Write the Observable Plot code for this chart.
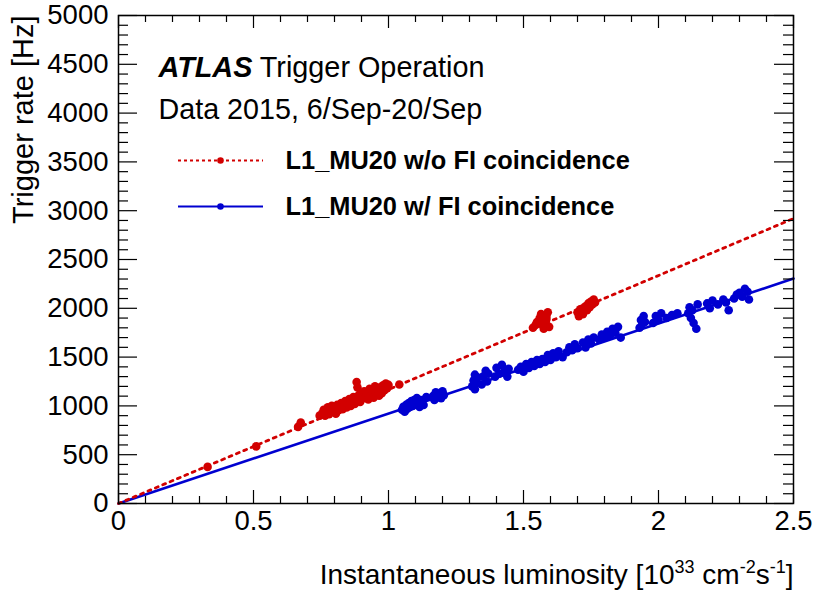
<!DOCTYPE html>
<html><head><meta charset="utf-8">
<script src="https://cdn.jsdelivr.net/npm/d3@7"></script>
<script src="https://cdn.jsdelivr.net/npm/@observablehq/plot@0.6"></script>
<style>
body{margin:0;background:#fff}
#chart svg{font-family:"Liberation Sans",Arial,Helvetica,sans-serif;color:#000;background:#fff}
</style>
</head><body><div id="chart"></div>
<script>
// ---- data (luminosity [1e33 cm-2 s-1], rate [Hz]) ----
const redPoints = [
  [0.33,375],[0.51,585],[0.665,785],[0.675,830],
  [0.745,900],[0.755,925],[0.76,960],[0.765,900],[0.77,945],[0.775,985],[0.78,915],[0.785,960],[0.79,1000],
  [0.795,940],[0.80,975],[0.805,920],[0.81,1010],[0.815,955],[0.82,995],[0.825,1030],[0.83,965],
  [0.835,1010],[0.84,1050],[0.845,985],[0.85,1020],[0.855,1070],[0.86,1000],[0.865,1045],[0.87,1090],
  [0.875,1020],[0.88,1075],[0.882,1245],[0.885,1190],[0.89,1110],[0.895,1040],[0.90,1125],[0.905,1075],
  [0.91,1150],[0.915,1090],[0.92,1135],[0.925,1065],[0.93,1175],[0.935,1105],[0.94,1150],[0.945,1085],
  [0.95,1200],[0.955,1125],[0.96,1165],[0.965,1105],[0.97,1190],[0.975,1130],[0.98,1210],[0.985,1160],
  [0.99,1230],[0.995,1180],[1.0,1215],[1.04,1220],
  [1.535,1800],[1.545,1830],[1.55,1860],[1.56,1900],[1.565,1940],[1.57,1880],[1.575,1790],[1.58,1850],
  [1.585,1920],[1.59,1960],[1.595,1810],[1.57,1830],[1.585,1890],
  [1.70,1960],[1.705,1920],[1.71,1990],[1.72,1940],[1.72,2000],[1.73,2020],[1.735,1980],[1.74,2050],
  [1.745,2010],[1.75,2070],[1.755,2040],[1.76,2090],[1.765,2060]
];
const bluePoints = [
  [1.05,960],[1.055,990],[1.06,940],[1.065,1010],[1.07,970],[1.075,1030],[1.08,990],[1.085,1050],
  [1.09,1000],[1.095,1060],[1.10,1020],[1.105,1080],[1.11,1040],[1.115,990],[1.12,1060],[1.13,1010],[1.14,1090],
  [1.165,1100],[1.17,1060],[1.175,1140],[1.18,1090],[1.19,1130],[1.195,1080],[1.2,1150],[1.205,1110],
  [1.31,1200],[1.315,1260],[1.32,1320],[1.325,1230],[1.33,1290],[1.32,1170],
  [1.345,1220],[1.35,1300],[1.36,1360],[1.365,1250],[1.37,1330],
  [1.395,1300],[1.40,1390],[1.41,1330],[1.42,1420],[1.43,1360],[1.44,1300],[1.445,1380],
  [1.48,1370],[1.49,1400],[1.50,1350],[1.51,1430],[1.52,1390],[1.53,1450],[1.54,1410],[1.55,1470],
  [1.56,1430],[1.57,1480],[1.58,1450],[1.59,1520],[1.60,1470],[1.61,1540],[1.62,1500],[1.63,1560],
  [1.645,1500],[1.66,1550],[1.67,1600],[1.68,1570],[1.69,1630],[1.70,1590],[1.72,1650],
  [1.73,1600],[1.74,1680],[1.75,1640],[1.76,1700],
  [1.78,1680],[1.79,1730],[1.80,1700],[1.81,1760],[1.82,1720],[1.83,1790],[1.84,1750],[1.85,1810],[1.86,1700],
  [1.93,1800],[1.935,1880],[1.94,1840],[1.945,1920],[1.95,1860],
  [1.98,1850],[1.99,1920],[2.00,1880],[2.01,1950],[2.03,1900],
  [2.05,1930],[2.07,1950],
  [2.11,1950],[2.115,2010],[2.12,1900],[2.125,1980],[2.13,1850],[2.14,1790],[2.145,2040],
  [2.18,2050],[2.19,2000],[2.20,2080],[2.22,2040],[2.24,2090],[2.25,2060],[2.26,1980],
  [2.28,2100],[2.29,2140],[2.30,2160],[2.31,2120],[2.32,2200],[2.33,2170],[2.335,2090]
];
const fitLumi = [0, 2.5];
const redFit = [0, 2920];
const blueFit = [0, 2305];
const xMajor = [0, 0.5, 1, 1.5, 2, 2.5];
const xTickLabels = ["0", "0.5", "1", "1.5", "2", "2.5"];
const yMajor = [0, 500, 1000, 1500, 2000, 2500, 3000, 3500, 4000, 4500, 5000];
const legendLabels = ["L1_MU20 w/o FI coincidence", "L1_MU20 w/ FI coincidence"];
const xTitle = "Instantaneous luminosity [10^33 cm^-2s^-1]";
const yTitle = "Trigger rate [Hz]";
const atlasText = "ATLAS Trigger Operation";
const dataText = "Data 2015, 6/Sep-20/Sep";

// ---- layout ----
const W = 815, H = 592, mT = 15, mR = 22, mB = 89, mL = 118;
const pw = W - mL - mR, ph = H - mT - mB;
const RED = "#d20000", BLUE = "#0000d0";
const xMinor = d3.range(0, 26).map(i => i / 10).filter(v => !xMajor.includes(v));
const yMinor = d3.range(0, 51).map(i => i * 100).filter(v => !yMajor.includes(v));

const redFitData = fitLumi.map((x, i) => ({x, y: redFit[i]}));
const blueFitData = fitLumi.map((x, i) => ({x, y: blueFit[i]}));
const px2x = p => (p - mL) / pw * 2.5;
const px2y = p => (mT + ph - p) / ph * 5000;

const legRed = [{label: legendLabels[0], yy: px2y(160)}];
const legBlue = [{label: legendLabels[1], yy: px2y(206)}];

const plot = Plot.plot({
  width: W, height: H,
  marginTop: mT, marginRight: mR, marginBottom: mB, marginLeft: mL,
  x: {domain: [0, 2.5]},
  y: {domain: [0, 5000]},
  marks: [
    // fits
    Plot.line(blueFitData, {x: "x", y: "y", stroke: BLUE, strokeWidth: 2.6}),
    Plot.line(redFitData, {x: "x", y: "y", stroke: RED, strokeWidth: 2.8, strokeDasharray: "3,5"}),
    // points
    Plot.dot(bluePoints, {x: d => d[0], y: d => d[1], r: 4.3, fill: BLUE, stroke: null}),
    Plot.dot(redPoints, {x: d => d[0], y: d => d[1], r: 4.3, fill: RED, stroke: null}),
    // inward ticks (ROOT style) on all four sides
    Plot.tickY(yMajor, {y: d => d, insetRight: pw - 19, stroke: "#000", strokeWidth: 1.2}),
    Plot.tickY(yMinor, {y: d => d, insetRight: pw - 10, stroke: "#000", strokeWidth: 1.2}),
    Plot.tickY(yMajor, {y: d => d, insetLeft: pw - 19, stroke: "#000", strokeWidth: 1.2}),
    Plot.tickY(yMinor, {y: d => d, insetLeft: pw - 10, stroke: "#000", strokeWidth: 1.2}),
    Plot.tickX(xMajor, {x: d => d, insetTop: ph - 13, stroke: "#000", strokeWidth: 1.2}),
    Plot.tickX(xMinor, {x: d => d, insetTop: ph - 7, stroke: "#000", strokeWidth: 1.2}),
    Plot.tickX(xMajor, {x: d => d, insetBottom: ph - 13, stroke: "#000", strokeWidth: 1.2}),
    Plot.tickX(xMinor, {x: d => d, insetBottom: ph - 7, stroke: "#000", strokeWidth: 1.2}),
    Plot.frame({stroke: "#000", strokeWidth: 1.5}),
    // axes labels
    Plot.axisX(xMajor, {tickSize: 0, tickPadding: 7, fontSize: 27.5, label: null,
      tickFormat: d => xTickLabels[xMajor.indexOf(d)]}),
    Plot.axisY(yMajor, {tickSize: 0, tickPadding: 10, fontSize: 27.5, label: null,
      tickFormat: d3.format("d")}),
    Plot.text([xTitle], {frameAnchor: "bottom-right", text: d => d, textAnchor: "end",
      lineAnchor: "bottom", dy: 80, fontSize: 28, fill: "#000"}),
    Plot.text([yTitle], {frameAnchor: "top-left", text: d => d, textAnchor: "end",
      lineAnchor: "bottom", rotate: -90, dx: -86, fontSize: 29, fill: "#000"}),
    // annotations
    Plot.text([atlasText], {x: px2x(158), y: px2y(67), text: d => d, textAnchor: "start",
      lineAnchor: "middle", fontSize: 28.8, fill: "#000"}),
    Plot.text([dataText], {x: px2x(158), y: px2y(109), text: d => d, textAnchor: "start",
      lineAnchor: "middle", fontSize: 28.7, fill: "#000"}),
    // legend
    Plot.ruleY(legRed, {y: "yy", x1: px2x(178), x2: px2x(263), stroke: RED,
      strokeDasharray: "3,3", strokeWidth: 2}),
    Plot.ruleY(legBlue, {y: "yy", x1: px2x(178), x2: px2x(263), stroke: BLUE, strokeWidth: 2}),
    Plot.dot(legRed, {x: px2x(220), y: "yy", r: 3.3, fill: RED, stroke: null}),
    Plot.dot(legBlue, {x: px2x(220), y: "yy", r: 3.3, fill: BLUE, stroke: null}),
    Plot.text(legRed.concat(legBlue), {x: px2x(285), y: "yy", text: "label", textAnchor: "start",
      lineAnchor: "middle", fontSize: 25.4, fontWeight: "bold", fill: "#000"})
  ]
});

document.getElementById("chart").appendChild(plot);

// rich text: superscripts and bold-italic ATLAS
const svg = d3.select(plot);
svg.selectAll("text").filter(function() { return this.textContent === xTitle; })
  .each(function() {
    const t = d3.select(this); t.text("");
    const parts = [["Instantaneous luminosity [10", 0], ["33", 1], [" cm", 0], ["-2", 1], ["s", 0], ["-1", 1], ["]", 0]];
    let sup = 0;
    for (const [s, isSup] of parts) {
      const ts = t.append("tspan").text(s);
      if (isSup && !sup) { ts.attr("dy", -11).attr("font-size", 18); sup = 1; }
      else if (isSup) { ts.attr("font-size", 18); }
      else if (sup) { ts.attr("dy", 11); sup = 0; }
    }
  });
svg.selectAll("text").filter(function() { return this.textContent === atlasText; })
  .each(function() {
    const t = d3.select(this); t.text("");
    t.append("tspan").text("ATLAS").attr("font-weight", "bold").attr("font-style", "italic");
    t.append("tspan").text(" Trigger Operation");
  });
</script>
</body></html>
